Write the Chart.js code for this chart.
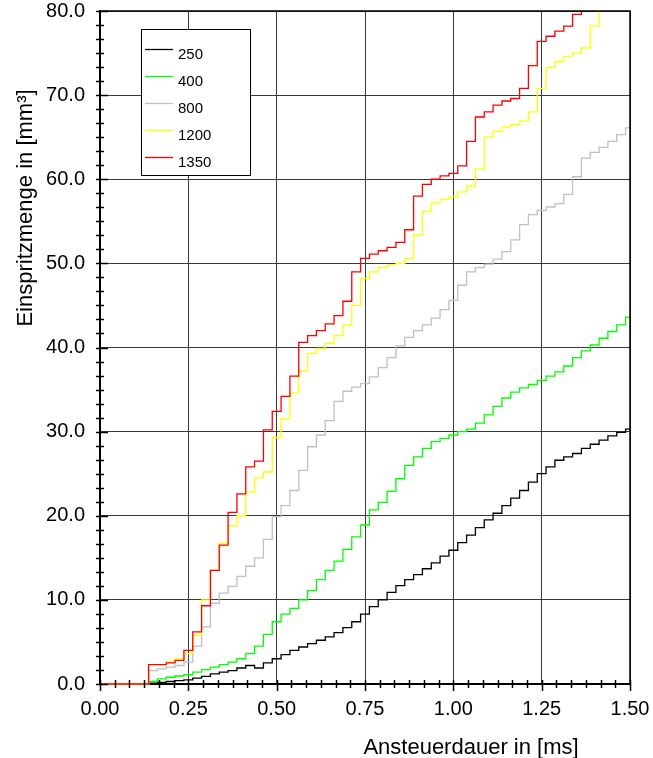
<!DOCTYPE html>
<html>
<head>
<meta charset="utf-8">
<script src="https://cdn.jsdelivr.net/npm/chart.js@4/dist/chart.umd.min.js"></script>
<style>
  html, body { margin: 0; padding: 0; background: #fff; }
  #wrap { width: 653px; height: 758px; position: relative; }
</style>
</head>
<body>
<div id="wrap"><canvas id="c"></canvas></div>
<script>
// Ansteuerdauer [ms] – common sampling grid of all curves
const durations = [
  0.000, 0.025, 0.050, 0.075, 0.100, 0.125, 0.150, 0.175, 0.200, 0.225,
  0.250, 0.275, 0.300, 0.325, 0.350, 0.375, 0.400, 0.425, 0.450, 0.475,
  0.500, 0.525, 0.550, 0.575, 0.600, 0.625, 0.650, 0.675, 0.700, 0.725,
  0.750, 0.775, 0.800, 0.825, 0.850, 0.875, 0.900, 0.925, 0.950, 0.975,
  1.000, 1.025, 1.050, 1.075, 1.100, 1.125, 1.150, 1.175, 1.200, 1.225,
  1.250, 1.275, 1.300, 1.325, 1.350, 1.375, 1.400, 1.425, 1.450, 1.475,
  1.500
];

// Rail pressures [bar] shown in the legend
const pressures = ['250', '400', '800', '1200', '1350'];
const colors = ['#000000', '#00ff00', '#c0c0c0', '#ffff00', '#ff0000'];

// Einspritzmenge [mm³] per pressure
const q250 = [
  0, 0, 0, 0, 0, 0, 0.1, 0.2, 0.3, 0.4,
  0.5, 0.7, 0.9, 1.2, 1.4, 1.6, 1.9, 2.2, 1.9, 2.5,
  3.0, 3.5, 4.0, 4.4, 4.8, 5.2, 5.6, 6.1, 6.7, 7.4,
  8.3, 9.2, 10.0, 10.9, 11.7, 12.4, 13.0, 13.7, 14.4, 15.2,
  15.9, 16.8, 17.7, 18.6, 19.5, 20.3, 21.2, 22.1, 23.0, 24.0,
  25.0, 25.8, 26.6, 27.0, 27.4, 28.0, 28.5, 29.0, 29.5, 29.9,
  30.3
];
const q400 = [
  0, 0, 0, 0, 0, 0, 0.3, 0.6, 0.8, 0.95,
  1.1, 1.4, 1.7, 2.0, 2.3, 2.6, 3.0, 3.6, 4.5, 5.9,
  7.4, 8.3, 9.0, 10.0, 11.1, 12.4, 13.5, 14.6, 16.0, 17.5,
  18.9, 20.7, 21.6, 22.9, 24.4, 26.0, 27.0, 28.0, 28.8, 29.2,
  29.6, 30.0, 30.3, 31.0, 32.0, 33.0, 34.0, 34.7, 35.2, 35.6,
  36.1, 36.6, 37.1, 37.8, 38.8, 39.6, 40.3, 41.1, 41.9, 42.7,
  43.6
];
const q800 = [
  0, 0, 0, 0, 0, 0, 1.6, 1.8, 2.0, 2.2,
  2.6, 4.5, 6.8, 9.6, 10.8, 11.6, 12.8, 14.0, 15.0, 17.2,
  19.9, 21.2, 23.0, 25.4, 28.2, 29.6, 31.3, 33.6, 34.8, 35.3,
  35.7, 36.5, 37.6, 38.8, 40.2, 41.2, 42.0, 42.7, 43.5, 44.5,
  45.6, 47.4, 49.0, 49.5, 49.9, 50.5, 51.4, 52.8, 54.6, 55.8,
  56.3, 56.7, 57.1, 58.2, 60.3, 62.5, 63.2, 63.8, 64.5, 65.3,
  66.1
];
const q1200 = [
  0, 0, 0, 0, 0, 0, 2.3, 2.3, 2.6, 3.0,
  3.6, 5.8, 10.0, 13.5, 16.7, 18.8, 20.0, 22.8, 24.5, 25.2,
  29.3, 31.5, 34.6, 37.2, 39.3, 39.9, 40.5, 41.4, 42.7, 45.0,
  48.2, 49.0, 49.5, 49.8, 50.0, 50.6, 53.4, 56.2, 57.2, 57.6,
  57.9, 58.5, 59.2, 61.2, 65.0, 65.7, 66.2, 66.5, 66.9, 68.0,
  70.8, 73.3, 74.0, 74.6, 75.0, 75.6, 78.2, 80.2
];
const q1350 = [
  0, 0, 0, 0, 0, 0, 2.3, 2.3, 2.5, 2.8,
  4.0, 6.2, 9.3, 13.5, 16.5, 20.4, 22.6, 25.8, 26.5, 30.2,
  32.4, 34.2, 36.6, 40.6, 41.4, 42.0, 42.8, 43.8, 45.5, 49.0,
  50.6, 51.1, 51.5, 51.9, 52.5, 54.0, 58.0, 59.4, 60.0, 60.4,
  60.7, 61.6, 64.5, 67.4, 68.0, 68.8, 69.3, 69.6, 70.8, 73.5,
  76.4, 77.0, 77.6, 78.2, 79.6, 81.0
];

const series = [q250, q400, q800, q1200, q1350];

const xTitle = 'Ansteuerdauer in [ms]';
const yTitle = 'Einspritzmenge in [mm³]';
const FONT = "'Liberation Sans', Arial, sans-serif";

const toPoints = (vals) => vals.map((v, i) => ({ x: durations[i], y: v }));

const datasets = series.map((vals, i) => ({
  label: pressures[i],
  data: toPoints(vals),
  borderColor: colors[i],
  backgroundColor: colors[i],
  borderWidth: 1.3,
  pointRadius: 0,
  stepped: 'middle',
  fill: false,
  clip: { left: 1, top: 0, right: 1, bottom: 2 },
  order: series.length - 1 - i   // highest pressure drawn on top
}));

// minor tick marks crossing the axes, frame, titles and the boxed legend
const decorations = {
  id: 'decorations',
  afterDatasetsDraw(chart) {
    const { ctx, chartArea: a, scales: { x, y } } = chart;
    ctx.save();

    // frame on top and right
    ctx.strokeStyle = '#000';
    ctx.lineWidth = 1.5;
    ctx.beginPath();
    ctx.moveTo(a.left, a.top);
    ctx.lineTo(a.right, a.top);
    ctx.lineTo(a.right, a.bottom);
    ctx.stroke();

    // tick marks (six subdivisions per major interval)
    ctx.lineWidth = 1.5;
    ctx.beginPath();
    for (let k = 0; k <= 36; k++) {
      const v = k * 0.25 / 6;
      const px = Math.round(x.getPixelForValue(v)) + 0.5;
      const major = k % 6 === 0;
      ctx.moveTo(px, a.bottom - 4);
      ctx.lineTo(px, a.bottom + (major ? 7 : 4));
    }
    for (let k = 0; k <= 48; k++) {
      const v = k * 10 / 6;
      const py = Math.round(y.getPixelForValue(v)) + 0.5;
      const major = k % 6 === 0;
      ctx.moveTo(a.left - 4, py);
      ctx.lineTo(a.left + (major ? 8 : 4), py);
    }
    ctx.stroke();

    // axis titles
    ctx.fillStyle = '#000';
    ctx.font = '22px ' + FONT;
    ctx.textAlign = 'center';
    ctx.textBaseline = 'alphabetic';
    ctx.fillText(xTitle, 471, 754);
    ctx.save();
    ctx.translate(32, 208);
    ctx.rotate(-Math.PI / 2);
    ctx.fillText(yTitle, 0, 0);
    ctx.restore();

    // legend box
    const lx = 141, ly = 29, lw = 109, lh = 146;
    ctx.fillStyle = '#fff';
    ctx.fillRect(lx, ly, lw, lh);
    ctx.strokeStyle = '#000';
    ctx.lineWidth = 1;
    ctx.strokeRect(lx + 0.5, ly + 0.5, lw, lh);
    ctx.font = '15px ' + FONT;
    ctx.textAlign = 'left';
    chart.data.datasets.forEach((ds, i) => {
      const rowY = 48.5 + i * 27.2;
      ctx.strokeStyle = ds.borderColor;
      ctx.lineWidth = 1.3;
      ctx.beginPath();
      ctx.moveTo(145, Math.round(rowY) + 0.5);
      ctx.lineTo(173, Math.round(rowY) + 0.5);
      ctx.stroke();
      ctx.fillStyle = '#000';
      ctx.fillText(ds.label, 178, rowY + 10);
    });

    ctx.restore();
  }
};

// the curves are drawn above the axis line so that the zero stretch stays visible
const curvesOnTop = {
  id: 'curvesOnTop',
  beforeDatasetsDraw(chart) {
    const { ctx, chartArea: a } = chart;
    ctx.save();
    ctx.strokeStyle = '#000';
    ctx.lineWidth = 2;
    ctx.beginPath();
    ctx.moveTo(a.left, a.bottom);
    ctx.lineTo(a.right, a.bottom);
    ctx.stroke();
    ctx.restore();
  }
};

new Chart(document.getElementById('c'), {
  type: 'line',
  data: { datasets },
  options: {
    responsive: true,
    maintainAspectRatio: false,
    animation: false,
    layout: { padding: { left: 0, top: 11, right: 23, bottom: 0 } },
    plugins: { legend: { display: false }, tooltip: { enabled: false } },
    scales: {
      x: {
        type: 'linear',
        min: 0,
        max: 1.5,
        afterFit(s) {
          s.height = 74;
          s.paddingLeft = 0;
          s.paddingRight = 0;
        },
        ticks: {
          stepSize: 0.25,
          padding: 13,
          color: '#000',
          font: { family: FONT, size: 20 },
          maxRotation: 0,
          callback: (v) => Number(v).toFixed(2)
        },
        grid: { color: '#3a3a3a', lineWidth: 1, drawTicks: false },
        border: { display: true, color: '#000', width: 2 }
      },
      y: {
        type: 'linear',
        min: 0,
        max: 80,
        afterFit(s) {
          s.width = 100;
          s.paddingTop = 0;
          s.paddingBottom = 0;
        },
        ticks: {
          stepSize: 10,
          padding: 15,
          color: '#000',
          font: { family: FONT, size: 20 },
          callback: (v) => Number(v).toFixed(1)
        },
        grid: { color: '#3a3a3a', lineWidth: 1, drawTicks: false },
        border: { display: true, color: '#000', width: 2 }
      }
    }
  },
  plugins: [curvesOnTop, decorations]
});
</script>
</body>
</html>
